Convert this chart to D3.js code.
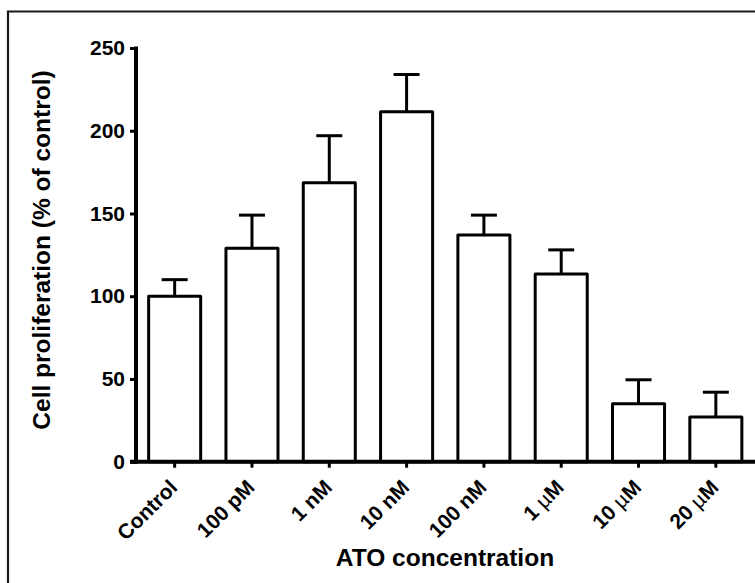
<!DOCTYPE html>
<html>
<head>
<meta charset="utf-8">
<script src="https://cdn.jsdelivr.net/npm/d3@7"></script>
<style>
  html, body { margin: 0; padding: 0; background: #fff; }
  svg { display: block; font-family: "Liberation Sans", Arial, sans-serif; }
</style>
</head>
<body>
<svg id="chart" width="755" height="583"></svg>
<script>
// ATO dose-response: mean cell proliferation (% of control) with upper SD bar
const concentrations = ["Control", "100 pM", "1 nM", "10 nM", "100 nM", "1 µM", "10 µM", "20 µM"];
const meanValues = [100, 129, 168.5, 211.5, 137, 113.5, 35, 27];
const errorValues = [10, 20, 28.5, 22.5, 12, 14.5, 14.5, 15];
const yTicks = [0, 50, 100, 150, 200, 250];

const svg = d3.select("#chart");
const FONT = "'Liberation Sans', Arial, sans-serif";

// outer frame (only the top and left edges fall inside the view)
svg.append("path")
  .attr("d", "M8,583V11.5H755")
  .attr("fill", "none")
  .attr("stroke", "#1a1a1a")
  .attr("stroke-width", 2.2);

const x = d3.scaleBand()
  .domain(concentrations)
  .range([136, 754.5])
  .paddingInner(0.327)
  .paddingOuter(0.1635);

const y = d3.scaleLinear()
  .domain([0, 250])
  .range([461.7, 48]);

const g = svg.append("g");

// bars
g.selectAll("rect.bar")
  .data(concentrations)
  .join("rect")
  .attr("class", "bar")
  .attr("x", d => x(d))
  .attr("y", (d, i) => y(meanValues[i]))
  .attr("width", x.bandwidth())
  .attr("height", (d, i) => y(0) - y(meanValues[i]))
  .attr("fill", "#fff")
  .attr("stroke", "#000")
  .attr("stroke-width", 3)
  .attr("stroke-linejoin", "round");

// upper error bars
const capHalf = 13;
const err = g.selectAll("g.err")
  .data(concentrations)
  .join("g")
  .attr("class", "err")
  .attr("stroke", "#000")
  .attr("stroke-width", 3);
err.append("line")
  .attr("x1", d => x(d) + x.bandwidth() / 2)
  .attr("x2", d => x(d) + x.bandwidth() / 2)
  .attr("y1", (d, i) => y(meanValues[i]))
  .attr("y2", (d, i) => y(meanValues[i] + errorValues[i]));
err.append("line")
  .attr("x1", d => x(d) + x.bandwidth() / 2 - capHalf)
  .attr("x2", d => x(d) + x.bandwidth() / 2 + capHalf)
  .attr("y1", (d, i) => y(meanValues[i] + errorValues[i]))
  .attr("y2", (d, i) => y(meanValues[i] + errorValues[i]));

// y axis
const yAxis = g.append("g")
  .attr("transform", "translate(136,0)")
  .call(d3.axisLeft(y).tickValues(yTicks).tickSize(6).tickPadding(5).tickSizeOuter(0));
yAxis.select(".domain").attr("stroke-width", 4).attr("d", `M0,${y(250) - 1.5}V${y(0) + 2}`);
yAxis.selectAll(".tick line").attr("stroke-width", 3);
yAxis.selectAll(".tick text")
  .attr("font-size", 21)
  .attr("font-weight", "bold")
  .attr("fill", "#000")
  .attr("font-family", FONT);

// x axis
const xAxis = g.append("g")
  .attr("transform", `translate(0,${y(0)})`)
  .call(d3.axisBottom(x).tickSize(6).tickSizeOuter(0));
xAxis.select(".domain").attr("stroke-width", 4).attr("d", "M130,0H755");
xAxis.selectAll(".tick line").attr("stroke-width", 3);
xAxis.selectAll(".tick text").remove();

// rotated category labels, with the micro sign in regular weight
xAxis.selectAll(".tick").each(function (d) {
  const t = d3.select(this).append("text")
    .attr("transform", "translate(4,27) rotate(-45)")
    .attr("text-anchor", "end")
    .attr("font-size", 21)
    .attr("font-weight", "bold")
    .attr("fill", "#000")
    .attr("font-family", FONT);
  const parts = d.split("µ");
  if (parts.length === 1) {
    t.text(d);
  } else {
    t.append("tspan").text(parts[0]);
    t.append("tspan").attr("font-weight", "normal").text("µ");
    t.append("tspan").text(parts[1]);
  }
});

// axis titles
svg.append("text")
  .attr("x", 445)
  .attr("y", 566)
  .attr("text-anchor", "middle")
  .attr("font-size", 24.5)
  .attr("font-weight", "bold")
  .text("ATO concentration");

svg.append("text")
  .attr("transform", "translate(50,250) rotate(-90)")
  .attr("text-anchor", "middle")
  .attr("font-size", 24.5)
  .attr("font-weight", "bold")
  .text("Cell proliferation (% of control)");
</script>
</body>
</html>
